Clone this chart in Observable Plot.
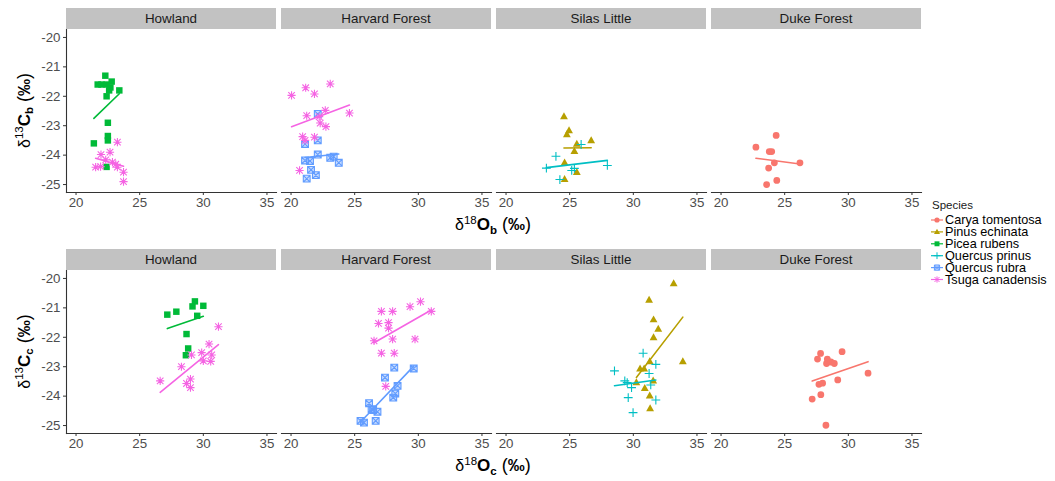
<!DOCTYPE html>
<html><head><meta charset="utf-8">
<script src="https://cdn.jsdelivr.net/npm/d3@7"></script>
<script src="https://cdn.jsdelivr.net/npm/@observablehq/plot@0.6"></script>
<style>
body{margin:0;background:#fff;font-family:"Liberation Sans",Arial,sans-serif;}
#wrap{position:relative;width:1055px;height:481px;overflow:hidden;}
#top,#bottom{position:absolute;left:0;}
#top{top:0}#bottom{top:240px}
#legend{position:absolute;left:926px;top:196px;}
</style></head><body>
<div id="wrap"><div id="top"></div><div id="bottom"></div><svg id="legend" width="129" height="95"></svg></div>
<script>
// ---------- categories / ticks ----------
const sites = ["Howland", "Harvard Forest", "Silas Little", "Duke Forest"];
const species = ["Carya tomentosa", "Pinus echinata", "Picea rubens", "Quercus prinus", "Quercus rubra", "Tsuga canadensis"];
const speciesColors = ["#F8766D", "#B79F00", "#00BA38", "#00BFC4", "#619CFF", "#F564E3"];
const xTicks = [20, 25, 30, 35];
const yTicks = [-20, -21, -22, -23, -24, -25];

// ---------- bulk wood (b): [δ18O, δ13C] ----------
const howlandPiceaB = [[22.3,-21.3],[21.7,-21.6],[22.0,-21.6],[22.4,-21.6],[22.8,-21.5],[22.7,-21.7],[22.6,-21.8],[23.4,-21.8],[22.4,-22.0],[22.5,-22.9],[22.5,-23.35],[22.5,-23.5],[21.4,-23.6],[22.4,-24.4]];
const howlandTsugaB = [[23.25,-23.56],[21.96,-23.98],[22.67,-23.9],[21.54,-24.41],[21.93,-24.39],[22.33,-24.16],[22.86,-24.24],[23.12,-24.31],[23.25,-24.41],[23.73,-24.58],[23.73,-24.9]];
const harvardTsugaB = [[20.04,-21.97],[21.15,-21.71],[21.84,-21.92],[23.08,-21.58],[21.23,-22.66],[22.21,-22.69],[22.69,-22.48],[24.59,-22.57],[22.29,-22.91],[22.74,-23.03],[20.91,-23.37],[21.84,-23.39],[21.1,-23.5],[20.67,-24.52]];
const harvardRubraB = [[22.1,-22.6],[21.1,-23.62],[22.1,-23.5],[22.1,-23.98],[21.1,-24.18],[21.49,-24.2],[23.08,-24.09],[23.35,-24.05],[23.75,-24.26],[21.57,-24.5],[21.95,-24.68],[21.23,-24.8]];
const silasPinusB = [[24.55,-22.69],[24.95,-23.16],[24.78,-23.3],[26.69,-23.5],[25.56,-23.62],[25.37,-23.87],[24.6,-24.26],[25.56,-24.58],[24.6,-24.82]];
const silasPrinusB = [[23.92,-24.04],[23.17,-24.44],[25.9,-23.64],[25.16,-24.52],[25.37,-24.45],[24.23,-24.83],[27.96,-24.35]];
const dukeCaryaB = [[24.33,-23.33],[22.74,-23.73],[23.79,-23.88],[23.98,-23.88],[24.19,-24.26],[26.2,-24.26],[23.74,-24.44],[24.38,-24.86],[23.58,-25.0]];

// ---------- cellulose (c): [δ18O, δ13C] ----------
const howlandPiceaC = [[27.17,-21.23],[27.88,-21.13],[29.34,-20.78],[29.15,-20.95],[30.0,-20.93],[29.52,-21.27],[28.68,-21.89],[28.81,-22.38],[28.63,-22.61]];
const howlandTsugaC = [[31.19,-21.64],[30.45,-22.23],[29.87,-22.52],[30.66,-22.6],[29.07,-22.6],[30.0,-22.8],[30.58,-22.82],[28.28,-23.0],[26.61,-23.48],[28.99,-23.42],[28.68,-23.57],[28.99,-23.71]];
const harvardTsugaC = [[30.17,-20.79],[29.35,-20.96],[31.02,-21.12],[27.1,-21.12],[27.98,-21.12],[26.87,-21.53],[27.66,-21.5],[27.66,-21.69],[26.52,-22.12],[27.98,-22.06],[29.74,-22.06],[27.1,-22.54],[28.11,-22.54],[27.44,-23.67]];
const harvardRubraC = [[28.11,-23.03],[29.64,-23.06],[27.38,-23.37],[28.37,-23.65],[28.19,-23.91],[28.03,-24.05],[26.13,-24.24],[26.33,-24.44],[26.45,-24.47],[26.79,-24.53],[26.65,-24.84],[25.46,-24.84],[25.73,-24.9]];
const silasPinusC = [[33.17,-20.17],[31.24,-20.73],[31.59,-21.4],[31.96,-21.72],[31.59,-22.01],[33.89,-22.82],[31.29,-22.82],[30.53,-23.07],[30.85,-23.07],[30.24,-23.54],[31.56,-23.48],[30.9,-23.73],[31.29,-23.99],[31.32,-24.42]];
const silasPrinusC = [[30.77,-22.54],[31.77,-22.92],[28.52,-23.14],[31.24,-23.23],[29.33,-23.48],[29.52,-23.54],[29.86,-23.71],[31.37,-23.62],[29.6,-24.05],[31.77,-24.13],[29.98,-24.56]];
const dukeCaryaC = [[29.51,-22.49],[27.82,-22.55],[27.58,-22.74],[28.35,-22.74],[28.29,-22.89],[28.63,-22.84],[28.9,-22.89],[31.55,-23.22],[29.17,-23.45],[27.69,-23.6],[27.98,-23.56],[27.84,-23.95],[27.16,-24.1],[28.24,-24.99]];

function rowsOf(site, sp, arr) { return arr.map(([x, y]) => ({site, species: sp, x, y})); }
const dataB = [
  ...rowsOf("Howland", "Picea rubens", howlandPiceaB), ...rowsOf("Howland", "Tsuga canadensis", howlandTsugaB),
  ...rowsOf("Harvard Forest", "Tsuga canadensis", harvardTsugaB), ...rowsOf("Harvard Forest", "Quercus rubra", harvardRubraB),
  ...rowsOf("Silas Little", "Pinus echinata", silasPinusB), ...rowsOf("Silas Little", "Quercus prinus", silasPrinusB),
  ...rowsOf("Duke Forest", "Carya tomentosa", dukeCaryaB)];
const dataC = [
  ...rowsOf("Howland", "Picea rubens", howlandPiceaC), ...rowsOf("Howland", "Tsuga canadensis", howlandTsugaC),
  ...rowsOf("Harvard Forest", "Tsuga canadensis", harvardTsugaC), ...rowsOf("Harvard Forest", "Quercus rubra", harvardRubraC),
  ...rowsOf("Silas Little", "Pinus echinata", silasPinusC), ...rowsOf("Silas Little", "Quercus prinus", silasPrinusC),
  ...rowsOf("Duke Forest", "Carya tomentosa", dukeCaryaC)];

// ---------- symbols (ggplot shapes 16,17,15,3,7,8) ----------
const rad = size => Math.sqrt(size / Math.PI);
const symbols = [
  {draw(c, s){ const r = rad(s); c.moveTo(r, 0); c.arc(0, 0, r, 0, 2*Math.PI); c.closePath(); }},
  {draw(c, s){ const r = rad(s); c.moveTo(0, -1.25*r); c.lineTo(1.15*r, 0.8*r); c.lineTo(-1.15*r, 0.8*r); c.closePath(); }},
  {draw(c, s){ const r = rad(s)*0.95; c.rect(-r, -r, 2*r, 2*r); }},
  {draw(c, s){ const r = rad(s)*1.3; c.moveTo(-r, 0); c.lineTo(r, 0); c.moveTo(0, -r); c.lineTo(0, r); }},
  {draw(c, s){ const r = rad(s); c.rect(-r, -r, 2*r, 2*r); c.moveTo(-r, -r); c.lineTo(r, r); c.moveTo(r, -r); c.lineTo(-r, r); }},
  {draw(c, s){ const r = rad(s)*1.2, d = r*0.8; c.moveTo(-r, 0); c.lineTo(r, 0); c.moveTo(0, -r); c.lineTo(0, r); c.moveTo(-d, -d); c.lineTo(d, d); c.moveTo(d, -d); c.lineTo(-d, d); }}
];
const filledSym = [true, true, true, false, false, false];

const FONT = "Liberation Sans, Arial, sans-serif";

function makePlot(data, height, marginTop, stripTop) {
  const marks = [];
  species.forEach((sp, i) => {
    const d = data.filter(r => r.species === sp);
    if (!d.length) return;
    const col = speciesColors[i];
    marks.push(Plot.dot(d, {
      x: "x", y: "y", fx: "site", symbol: symbols[i], r: 3.4,
      fill: filledSym[i] ? col : (i === 4 ? col : "none"),
      fillOpacity: i === 4 ? 0.35 : 1,
      stroke: filledSym[i] ? "none" : col, strokeWidth: 1.1
    }));
    marks.push(Plot.linearRegressionY(d, {x: "x", y: "y", fx: "site", stroke: col, strokeWidth: 1.6, ci: 0}));
  });
  marks.push(Plot.frame({anchor: "bottom", stroke: "#333", strokeWidth: 1.1}));
  marks.push(Plot.frame({anchor: "left", stroke: "#333", strokeWidth: 1.1, facetAnchor: "left"}));
  marks.push(Plot.axisX({ticks: xTicks, tickSize: 3, tickPadding: 2, label: null, fontSize: 13.3, stroke: "#333", fill: "#4d4d4d", tickFormat: d => String(d)}));
  marks.push(Plot.axisY({ticks: yTicks, tickSize: 3, tickPadding: 3, label: null, fontSize: 13.3, stroke: "#333", fill: "#4d4d4d", tickFormat: d => String(d)}));
  const p = Plot.plot({
    width: 1055, height,
    marginTop, marginBottom: height - marginTop - 163, marginLeft: 65, marginRight: 134,
    style: {fontFamily: FONT, background: "white", overflow: "visible"},
    x: {domain: [19.25, 35.75]},
    y: {domain: [-25.27, -19.73]},
    fx: {domain: sites, paddingInner: 0.0255, paddingOuter: 0, axis: null},
    marks
  });
  // facet strips derived from the fx scale
  const svg = d3.select(p);
  const fx = p.scale("fx");
  const bw = fx.bandwidth;
  sites.forEach(s => {
    const x0 = fx.apply(s);
    svg.append("rect").attr("x", x0).attr("y", stripTop).attr("width", bw).attr("height", marginTop - stripTop).attr("fill", "#c2c2c2");
    svg.append("text").attr("x", x0 + bw / 2).attr("y", (stripTop + marginTop) / 2).attr("dy", "0.36em")
      .attr("text-anchor", "middle").attr("font-size", 13.4).attr("fill", "#1a1a1a").text(s);
  });
  return p;
}

function addTitles(p, sub, xIso, yIso, marginTop) {
  const svg = d3.select(p);
  const panelMid = marginTop + 163 / 2;
  function fill(t, letter, iso) {
    t.append("tspan").text("δ");
    t.append("tspan").attr("font-size", 11.5).attr("dy", "-0.55em").text(iso);
    t.append("tspan").attr("font-weight", "bold").attr("font-size", 17).attr("dy", "0.38em").text(letter);
    t.append("tspan").attr("font-weight", "bold").attr("font-size", 11.5).attr("dy", "0.3em").text(sub);
    t.append("tspan").attr("font-size", 18).attr("dy", "-0.2em").text(" (");
    t.append("tspan").attr("font-size", 17).attr("font-weight", "bold").text("‰");
    t.append("tspan").attr("font-size", 18).text(")");
  }
  const yt = svg.append("text").attr("transform", `translate(24,${panelMid}) rotate(-90)`)
    .attr("text-anchor", "middle").attr("dy", "0.35em").attr("font-size", 16).attr("fill", "#000");
  fill(yt, "C", yIso);
  const xt = svg.append("text").attr("x", 493).attr("y", marginTop + 163 + 38)
    .attr("text-anchor", "middle").attr("font-size", 16).attr("fill", "#000");
  fill(xt, "O", xIso);
}

const pTop = makePlot(dataB, 240, 29, 8);
addTitles(pTop, "b", "18", "13", 29);
document.getElementById("top").appendChild(pTop);
const pBot = makePlot(dataC, 241, 30, 9);
addTitles(pBot, "c", "18", "13", 30);
document.getElementById("bottom").appendChild(pBot);

// legend
const lg = d3.select("#legend").style("font-family", FONT);
lg.append("text").attr("x", 6).attr("y", 13).attr("font-size", 11.5).attr("fill", "#1a1a1a").text("Species");
species.forEach((sp, i) => {
  const cy = 24 + i * 11.9;
  const col = speciesColors[i];
  lg.append("line").attr("x1", 5).attr("x2", 17).attr("y1", cy).attr("y2", cy).attr("stroke", col).attr("stroke-width", 1.2);
  lg.append("path").attr("transform", `translate(11,${cy})`)
    .attr("d", d3.symbol(symbols[i], Math.PI * 2.6 * 2.6)())
    .attr("fill", filledSym[i] ? col : (i === 4 ? col : "none")).attr("fill-opacity", i === 4 ? 0.35 : 1)
    .attr("stroke", filledSym[i] ? "none" : col).attr("stroke-width", 1);
  lg.append("text").attr("x", 19).attr("y", cy).attr("dy", "0.35em").attr("font-size", 12.7).attr("fill", "#000").text(sp);
});
</script>
</body></html>
